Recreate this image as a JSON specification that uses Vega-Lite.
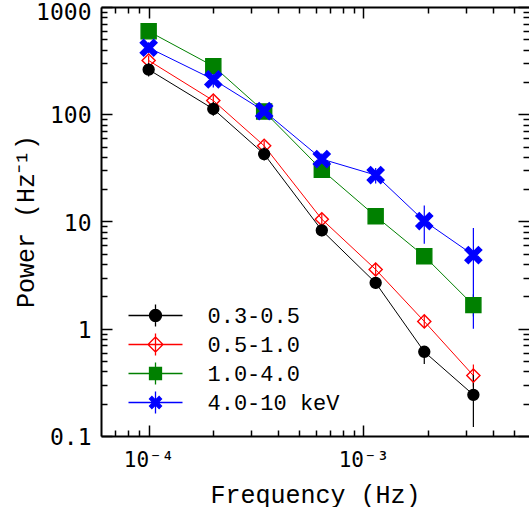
{
  "$schema": "https://vega.github.io/schema/vega-lite/v6.json",
  "autosize": {"type": "none"},
  "padding": {"left": 101, "top": 7, "right": 0, "bottom": 71},
  "width": 428,
  "height": 429,
  "background": "white",
  "config": {
    "view": {"stroke": null},
    "axis": {"grid": false, "tickColor": "black", "domainColor": "black", "labelColor": "black", "titleColor": "black"}
  },
  "data": {
    "values": [
      {"band": "1.0-4.0", "f": 0.0001, "p": 593, "lo": 540, "hi": 650},
      {"band": "1.0-4.0", "f": 0.0002, "p": 281, "lo": 250, "hi": 315},
      {"band": "1.0-4.0", "f": 0.000345, "p": 106, "lo": 96, "hi": 117},
      {"band": "1.0-4.0", "f": 0.00064, "p": 30.3, "lo": 27.5, "hi": 33.4},
      {"band": "1.0-4.0", "f": 0.00114, "p": 11.2, "lo": 10.1, "hi": 12.4},
      {"band": "1.0-4.0", "f": 0.00192, "p": 4.75, "lo": 4.2, "hi": 5.4},
      {"band": "1.0-4.0", "f": 0.00325, "p": 1.66, "lo": 1.3, "hi": 2.1},
      {"band": "4.0-10 keV", "f": 0.0001, "p": 417, "lo": 370, "hi": 470},
      {"band": "4.0-10 keV", "f": 0.0002, "p": 211, "lo": 178, "hi": 265},
      {"band": "4.0-10 keV", "f": 0.000345, "p": 107, "lo": 96, "hi": 118},
      {"band": "4.0-10 keV", "f": 0.00064, "p": 38.2, "lo": 34, "hi": 43},
      {"band": "4.0-10 keV", "f": 0.00114, "p": 27.1, "lo": 22.6, "hi": 31.6},
      {"band": "4.0-10 keV", "f": 0.00192, "p": 10.1, "lo": 6.2, "hi": 14.1},
      {"band": "4.0-10 keV", "f": 0.00325, "p": 4.86, "lo": 1.0, "hi": 8.7},
      {"band": "0.5-1.0", "f": 0.0001, "p": 317, "lo": 285, "hi": 352},
      {"band": "0.5-1.0", "f": 0.0002, "p": 134, "lo": 120, "hi": 150},
      {"band": "0.5-1.0", "f": 0.000345, "p": 50.8, "lo": 45.5, "hi": 56.5},
      {"band": "0.5-1.0", "f": 0.00064, "p": 10.5, "lo": 9.3, "hi": 11.8},
      {"band": "0.5-1.0", "f": 0.00114, "p": 3.57, "lo": 3.15, "hi": 4.05},
      {"band": "0.5-1.0", "f": 0.00192, "p": 1.17, "lo": 1.02, "hi": 1.33},
      {"band": "0.5-1.0", "f": 0.00325, "p": 0.366, "lo": 0.29, "hi": 0.464},
      {"band": "0.3-0.5", "f": 0.0001, "p": 261, "lo": 225, "hi": 300},
      {"band": "0.3-0.5", "f": 0.0002, "p": 112, "lo": 97, "hi": 130},
      {"band": "0.3-0.5", "f": 0.000345, "p": 42.5, "lo": 37, "hi": 49},
      {"band": "0.3-0.5", "f": 0.00064, "p": 8.27, "lo": 7.3, "hi": 9.3},
      {"band": "0.3-0.5", "f": 0.00114, "p": 2.68, "lo": 2.35, "hi": 3.05},
      {"band": "0.3-0.5", "f": 0.00192, "p": 0.61, "lo": 0.47, "hi": 0.68},
      {"band": "0.3-0.5", "f": 0.00325, "p": 0.242, "lo": 0.121, "hi": 0.37}
    ]
  },
  "resolve": {"axis": {"x": "independent", "y": "independent"}},
  "layer": [
    {
      "mark": {"type": "line", "strokeWidth": 1, "clip": true},
      "encoding": {
        "x": {
          "field": "f", "type": "quantitative",
          "scale": {"type": "log", "domain": [0.00006, 0.0059], "nice": false},
          "axis": {
            "orient": "bottom",
            "title": "Frequency (Hz)",
            "titleFont": "Liberation Mono", "titleFontSize": 25, "titleFontWeight": "normal",
            "titleX": 214, "titleY": 66, "titleAlign": "center", "titleBaseline": "alphabetic",
            "values": [0.00007, 0.00008, 0.00009, 0.0001, 0.0002, 0.0003, 0.0004, 0.0005, 0.0006, 0.0007, 0.0008, 0.0009, 0.001, 0.002, 0.003, 0.004, 0.005],
            "labelExpr": "datum.value > 0.0000999 && datum.value < 0.000101 ? '10⁻⁴' : (datum.value > 0.000999 && datum.value < 0.00101 ? '10⁻³' : '')",
            "labelFont": "DejaVu Sans Mono", "labelFontSize": 21, "labelPadding": 24,
            "labelOverlap": false, "labelFlush": false, "labelBound": false, "labelBaseline": "top",
            "tickSize": {"condition": {"test": "abs(log(datum.value)/LN10 - round(log(datum.value)/LN10)) < 0.001", "value": -11}, "value": -6},
            "tickWidth": 1.5, "domainWidth": 2
          }
        },
        "y": {
          "field": "p", "type": "quantitative",
          "scale": {"type": "log", "domain": [0.1, 1000], "nice": false},
          "axis": {
            "orient": "left",
            "title": "Power (Hz⁻¹)",
            "titleFont": "Liberation Mono", "titleFontSize": 25, "titleFontWeight": "normal",
            "titleX": -68, "titleY": 214, "titleAlign": "center", "titleBaseline": "alphabetic", "titleAngle": -90,
            "values": [0.1, 0.2, 0.3, 0.4, 0.5, 0.6, 0.7, 0.8, 0.9, 1, 2, 3, 4, 5, 6, 7, 8, 9, 10, 20, 30, 40, 50, 60, 70, 80, 90, 100, 200, 300, 400, 500, 600, 700, 800, 900, 1000],
            "labelExpr": "abs(log(datum.value)/LN10 - round(log(datum.value)/LN10)) < 0.001 ? format(datum.value, '~g') : ''",
            "labelFont": "DejaVu Sans Mono", "labelFontSize": 23, "labelPadding": 21,
            "labelOverlap": false, "labelFlush": false, "labelBound": false, "labelBaseline": "middle",
            "labelOffset": {"condition": {"test": "datum.value > 999", "value": 5}, "value": 1.5},
            "tickSize": {"condition": {"test": "abs(log(datum.value)/LN10 - round(log(datum.value)/LN10)) < 0.001", "value": -11}, "value": -6},
            "tickWidth": 1.5, "domainWidth": 2
          }
        },
        "color": {
          "field": "band", "type": "nominal",
          "scale": {"domain": ["0.3-0.5", "0.5-1.0", "1.0-4.0", "4.0-10 keV"], "range": ["#000000", "#ff0000", "#008000", "#0000ff"]},
          "legend": {
            "orient": "none", "legendX": 40, "legendY": 294,
            "title": null, "padding": 0, "rowPadding": -3.7,
            "labelFont": "Liberation Mono", "labelFontSize": 22, "labelColor": "black", "labelOffset": 37.5,
            "symbolSize": 729, "symbolStrokeWidth": 1.3, "symbolOpacity": 1,
            "encode": {
              "symbols": {
                "update": {
                  "shape": {"signal": "datum.value === '0.3-0.5' ? 'M-2,0H2M0,-0.81V0.81M0.444,0A0.444,0.444,0,1,1,-0.444,0A0.444,0.444,0,1,1,0.444,0Z' : (datum.value === '0.5-1.0' ? 'M-2,0H2M0,-0.81V0.81M0,-0.556L0.556,0L0,0.556L-0.556,0Z' : (datum.value === '1.0-4.0' ? 'M-2,0H2M0,-0.81V0.81M-0.444,-0.444H0.444V0.444H-0.444Z' : 'M-2,0H2M0,-0.81V0.81M-0.444,-0.267L-0.267,-0.444L0,-0.178L0.267,-0.444L0.444,-0.267L0.178,0L0.444,0.267L0.267,0.444L0,0.178L-0.267,0.444L-0.444,0.267L-0.178,0Z'))"},
                  "size": {"value": 729},
                  "fill": {"signal": "datum.value === '0.3-0.5' ? '#000000' : (datum.value === '0.5-1.0' ? 'transparent' : (datum.value === '1.0-4.0' ? '#008000' : '#0000ff'))"},
                  "fillOpacity": {"value": 1},
                  "strokeWidth": {"value": 1.3},
                  "opacity": {"value": 1}
                }
              }
            }
          }
        }
      }
    },
    {
      "mark": {"type": "rule", "strokeWidth": 1.2, "clip": true},
      "encoding": {
        "x": {
          "field": "f", "type": "quantitative",
          "scale": {"type": "log", "domain": [0.00006, 0.0059], "nice": false},
          "axis": {
            "orient": "top", "title": null, "labels": false,
            "values": [0.00007, 0.00008, 0.00009, 0.0001, 0.0002, 0.0003, 0.0004, 0.0005, 0.0006, 0.0007, 0.0008, 0.0009, 0.001, 0.002, 0.003, 0.004, 0.005],
            "tickSize": {"condition": {"test": "abs(log(datum.value)/LN10 - round(log(datum.value)/LN10)) < 0.001", "value": -11}, "value": -6},
            "tickWidth": 1.5, "domainWidth": 2
          }
        },
        "y": {
          "field": "lo", "type": "quantitative",
          "scale": {"type": "log", "domain": [0.1, 1000], "nice": false},
          "axis": {
            "orient": "right", "title": null, "labels": false, "domain": false,
            "values": [0.1, 0.2, 0.3, 0.4, 0.5, 0.6, 0.7, 0.8, 0.9, 1, 2, 3, 4, 5, 6, 7, 8, 9, 10, 20, 30, 40, 50, 60, 70, 80, 90, 100, 200, 300, 400, 500, 600, 700, 800, 900, 1000],
            "tickSize": {"condition": {"test": "abs(log(datum.value)/LN10 - round(log(datum.value)/LN10)) < 0.001", "value": -11}, "value": -6},
            "tickWidth": 1.5
          }
        },
        "y2": {"field": "hi"},
        "color": {"field": "band", "type": "nominal", "scale": {"domain": ["0.3-0.5", "0.5-1.0", "1.0-4.0", "4.0-10 keV"], "range": ["#000000", "#ff0000", "#008000", "#0000ff"]}}
      }
    },
    {
      "mark": {"type": "point", "strokeWidth": 1.4, "opacity": 1, "fillOpacity": 1, "clip": true},
      "encoding": {
        "x": {"field": "f", "type": "quantitative", "scale": {"type": "log", "domain": [0.00006, 0.0059], "nice": false}, "axis": null},
        "y": {"field": "p", "type": "quantitative", "scale": {"type": "log", "domain": [0.1, 1000], "nice": false}, "axis": null},
        "shape": {"field": "band", "type": "nominal", "legend": null, "scale": {"range": ["circle", "diamond", "square", "M-1,-0.6L-0.6,-1L0,-0.4L0.6,-1L1,-0.6L0.4,0L1,0.6L0.6,1L0,0.4L-0.6,1L-1,0.6L-0.4,0Z"]}},
        "size": {"field": "band", "type": "nominal", "legend": null, "scale": {"range": [120, 280, 150, 150]}},
        "stroke": {"field": "band", "type": "nominal", "legend": null, "scale": {"range": ["#000000", "#ff0000", "#008000", "#0000ff"]}},
        "fill": {"field": "band", "type": "nominal", "legend": null, "scale": {"range": ["#000000", "transparent", "#008000", "#0000ff"]}}
      }
    }
  ]
}
